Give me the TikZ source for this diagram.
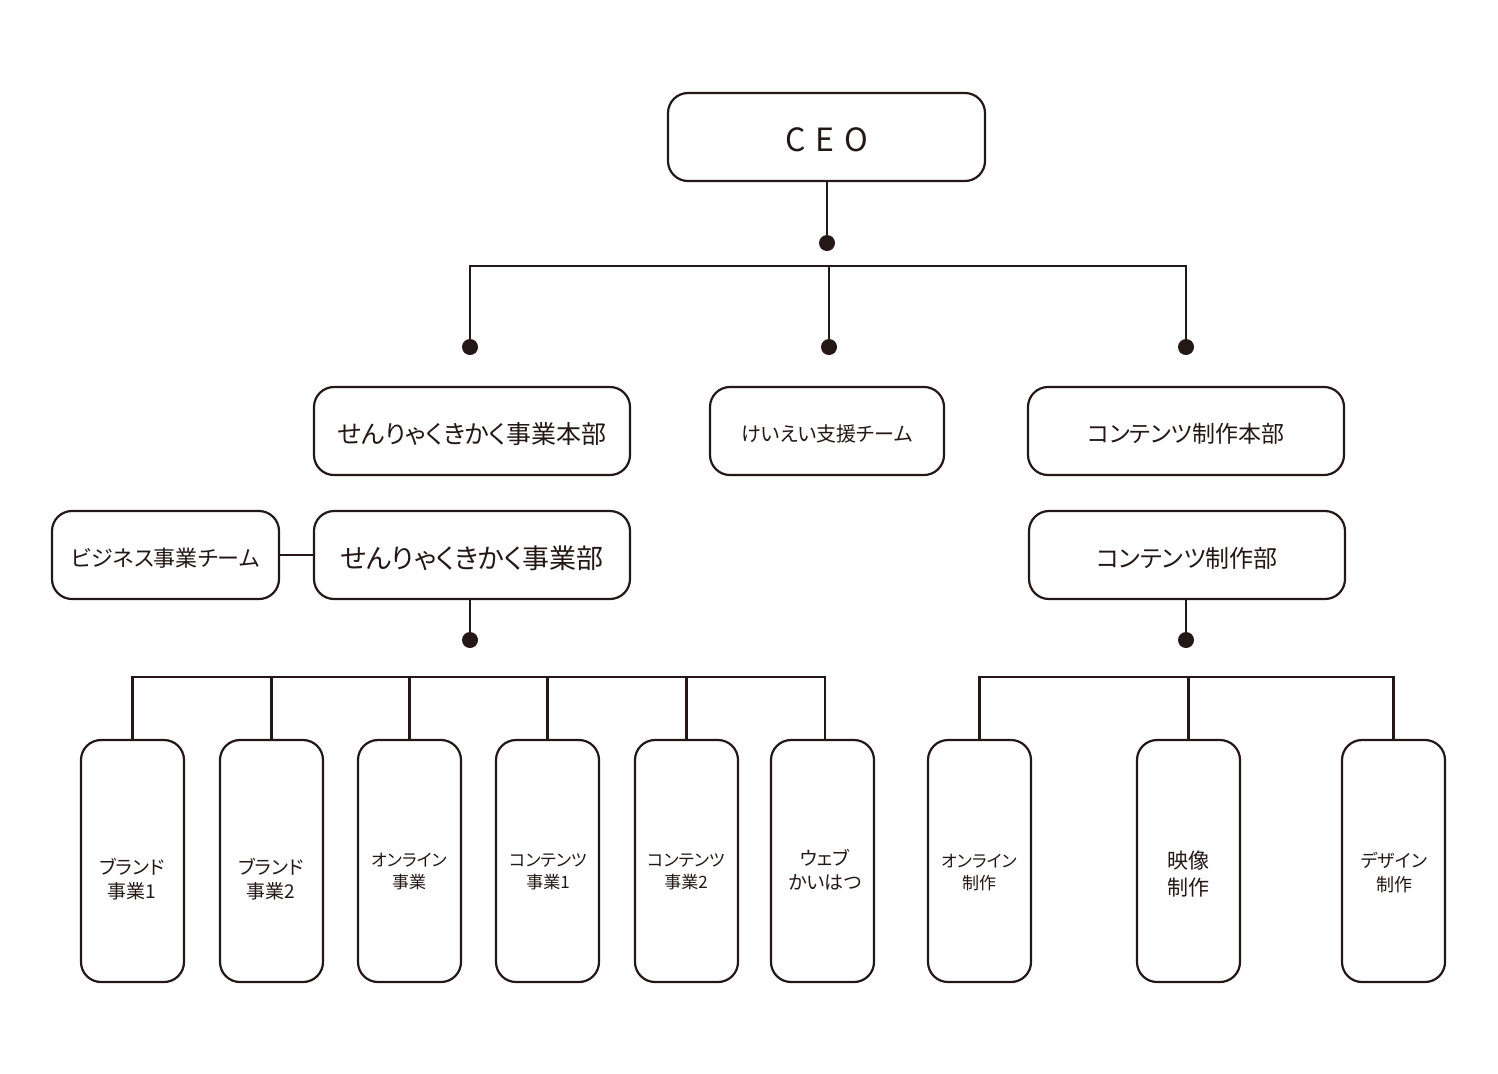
\documentclass[tikz,border=0pt]{standalone}
\usepackage{fontspec}
\setmainfont{Noto Sans CJK JP}[RawFeature=+palt]
\definecolor{ink}{HTML}{231815}
\newcommand{\lowtxt}[1]{\raisebox{-1.5pt}[\height][\depth]{#1}}
\begin{document}
\begin{tikzpicture}[x=0.5pt,y=-0.5pt,
  every node/.style={text=ink},
  box/.style={draw=ink,line width=1.1pt,rounded corners=10pt,inner sep=0pt,fill=white},
  wide/.style={box,minimum width=158pt,minimum height=44pt},
  tall/.style={box,minimum width=51.5pt,minimum height=121pt},
  dot/.style={circle,fill=ink,inner sep=0pt,minimum size=8pt},
  lbl/.style={align=center,inner sep=0pt},
  conn/.style={draw=ink,line width=1.1pt}]
\useasboundingbox (0,0) rectangle (1498,1073);
% top level
\node[wide,minimum width=158.5pt] (ceo) at (826.5,137) {\lowtxt{\fontsize{16}{19}\selectfont C\kern5pt E\kern5pt O}};
\node[dot] (d0) at (827,243) {};
\coordinate (topbar) at (0,266);
\node[dot] (d1) at (470,347) {};
\node[dot] (d2) at (829,347) {};
\node[dot] (d3) at (1186,347) {};
% second row
\node[wide] (hq1) at (472,431) {\lowtxt{\fontsize{12.5}{15}\selectfont せんりゃくきかく事業本部}};
\node[wide,minimum width=117pt] (sup) at (827,431) {\lowtxt{\fontsize{10}{12}\selectfont けいえい支援チーム}};
\node[wide] (hq2) at (1186,431) {\lowtxt{\fontsize{11.5}{14}\selectfont コンテンツ制作本部}};
% third row
\node[wide,minimum width=113.5pt] (biz) at (165.5,555) {\lowtxt{\fontsize{11}{13}\selectfont ビジネス事業チーム}};
\node[wide] (dep1) at (472,555) {\lowtxt{\fontsize{13.5}{16}\selectfont せんりゃくきかく事業部}};
\node[wide] (dep2) at (1187,555) {\lowtxt{\fontsize{12}{14}\selectfont コンテンツ制作部}};
\node[dot] (d4) at (470,640) {};
\node[dot] (d5) at (1186,640) {};
\coordinate (barL) at (0,677);
% bottom boxes
\node[tall] (b1) at (132.5,861) {};
\node[tall] (b2) at (271.5,861) {};
\node[tall] (b3) at (409.5,861) {};
\node[tall] (b4) at (547.5,861) {};
\node[tall] (b5) at (686.5,861) {};
\node[tall] (b6) at (822.5,861) {};
\node[tall] (b7) at (979.5,861) {};
\node[tall] (b8) at (1188.5,861) {};
\node[tall] (b9) at (1393.5,861) {};
% labels
\node[lbl,font=\fontsize{9.5}{12}\selectfont] (t1) at (132,879) {ブランド\\事業1};
\node[lbl,font=\fontsize{9.5}{12}\selectfont] (t2) at (271,879) {ブランド\\事業2};
\node[lbl,font=\fontsize{8.5}{11}\selectfont] (t3) at (409,872) {オンライン\\事業};
\node[lbl,font=\fontsize{8.5}{11}\selectfont] (t4) at (548,872) {コンテンツ\\事業1};
\node[lbl,font=\fontsize{8.5}{11}\selectfont] (t5) at (686,872) {コンテンツ\\事業2};
\node[lbl,font=\fontsize{9.5}{12}\selectfont] (t6) at (825,870) {ウェブ\\かいはつ};
\node[lbl,font=\fontsize{8.5}{11}\selectfont] (t7) at (979,872) {オンライン\\制作};
\node[lbl,font=\fontsize{10.5}{13.5}\selectfont] (t8) at (1188,874) {映像\\制作};
\node[lbl,font=\fontsize{9}{12}\selectfont] (t9) at (1394,873) {デザイン\\制作};
% connectors
\draw[conn] (d0 |- ceo.south) -- (d0);
\draw[conn] (d1) -- (d1 |- topbar) -- (d3 |- topbar) -- (d3);
\draw[conn] (d2) -- (d2 |- topbar);
\draw[conn] (biz.east) -- (dep1.west);
\draw[conn] (d4 |- dep1.south) -- (d4);
\draw[conn] (d5 |- dep2.south) -- (d5);
\draw[conn] (b1.north) -- (b1.north |- barL) -- ([xshift=1.25pt]b6.north |- barL) -- ([xshift=1.25pt]b6.north);
\foreach \b in {b2,b3,b4,b5}{\draw[conn] (\b.north) -- (\b.north |- barL);}
\draw[conn] (b7.north) -- (b7.north |- barL) -- (b9.north |- barL) -- (b9.north);
\draw[conn] (b8.north) -- (b8.north |- barL);
\end{tikzpicture}
\end{document}
